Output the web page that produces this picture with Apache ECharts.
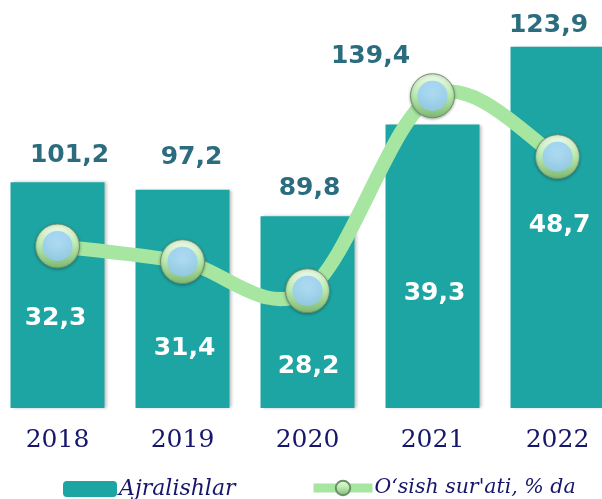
<!DOCTYPE html>
<html>
<head>
<meta charset="utf-8">
<script src="https://cdn.jsdelivr.net/npm/echarts@6/dist/echarts.min.js"></script>
<style>
  html, body { margin: 0; padding: 0; background: #fff; overflow: hidden; }
  /* 画布向左偏移 让第一根柱子贴近左边 */
  #chart { width: 627px; height: 499px; margin-left: -5px; }
</style>
</head>
<body>
<div id="chart"></div>
<script>
// 数据
const years = ["2018", "2019", "2020", "2021", "2022"]
const ajralishlar = [32.3, 31.4, 28.2, 39.3, 48.7] // 柱
const osishSurati = [101.2, 97.2, 89.8, 139.4, 123.9] // 折线 %

// 标签偏移（位置，不是数据）
const barLabelOffset = [[-2, 23], [2, 50], [1, 54], [2, 27], [2, -2]]
const lineLabelOffset = [[12, -91], [9, -104], [2, -102], [-62, -39], [-9, -131]]

const fmt = v => String(v).replace(".", ",")
const lineColor = "#a6e6a0"

const myChart = echarts.init(document.getElementById("chart"))

const ringColor = {
  type: "linear", x: 0, y: 0, x2: 0, y2: 1,
  colorStops: [
    { offset: 0, color: "#f0fcec" },
    { offset: 0.45, color: "#bdecb2" },
    { offset: 1, color: "#7db872" },
  ],
}
const innerColor = {
  type: "radial", x: 0.5, y: 0.45, r: 0.55,
  colorStops: [
    { offset: 0, color: "#a8d6ff" },
    { offset: 1, color: "#92c8f8" },
  ],
}

// 平滑曲线 (Catmull-Rom -> 贝塞尔)，每个 dataIndex 画一段
function renderCurve(params, api) {
  const i = params.dataIndex
  const n = osishSurati.length
  if (i >= n - 1) return null
  const pt = k => {
    const j = Math.max(0, Math.min(n - 1, k))
    return api.coord([j, osishSurati[j]])
  }
  const p0 = pt(i - 1), p1 = pt(i), p2 = pt(i + 1), p3 = pt(i + 2)
  const t = 1 / 6
  return {
    type: "bezierCurve",
    shape: {
      x1: p1[0], y1: p1[1],
      x2: p2[0], y2: p2[1],
      cpx1: p1[0] + (p2[0] - p0[0]) * t, cpy1: p1[1] + (p2[1] - p0[1]) * t,
      cpx2: p2[0] - (p3[0] - p1[0]) * t, cpy2: p2[1] - (p3[1] - p1[1]) * t,
    },
    style: { stroke: lineColor, lineWidth: 14, lineCap: "round", fill: null },
  }
}

const legendText = { fontFamily: "DejaVu Serif", fontStyle: "italic", fontSize: 22, color: "#16166b" }

const option = {
  animation: false,
  grid: { left: 0, width: 625, top: 3, bottom: 91, containLabel: false },
  legend: [
    {
      data: ["Ajralishlar"],
      left: 63, top: 473,
      itemWidth: 54, itemHeight: 16,
      textStyle: Object.assign({}, legendText, { padding: [0, 0, 0, -3] }),
    },
    {
      data: ["O‘sish sur'ati, % da"],
      left: 309, top: 473,
      itemWidth: 59, itemHeight: 18,
      lineStyle: { width: 9, color: lineColor, opacity: 1 },
      textStyle: Object.assign({}, legendText, { fontSize: 20.5, padding: [0, 0, 0, -3] }),
    },
  ],
  xAxis: {
    type: "category",
    data: years,
    axisLine: { show: false },
    axisTick: { show: false },
    axisLabel: { margin: 20, fontFamily: "DejaVu Serif", fontSize: 25, color: "#16166b" },
  },
  yAxis: [
    { type: "value", min: 5, max: 54, show: false, splitLine: { show: false } },
    { type: "value", min: 60, max: 163, show: false, splitLine: { show: false } },
  ],
  series: [
    {
      name: "Ajralishlar",
      type: "bar",
      barWidth: 94,
      itemStyle: {
        color: "#1ca5a3",
        shadowColor: "rgba(0,0,0,0.25)",
        shadowBlur: 3,
        shadowOffsetX: 2,
      },
      label: {
        show: true,
        position: "inside",
        formatter: p => fmt(p.value),
        fontFamily: "DejaVu Sans",
        fontWeight: "bold",
        fontSize: 25,
        color: "#ffffff",
      },
      data: ajralishlar.map((v, i) => ({ value: v, label: { offset: barLabelOffset[i] } })),
    },
    {
      // 曲线本身
      name: "curve",
      type: "custom",
      yAxisIndex: 1,
      z: 3,
      silent: true,
      renderItem: renderCurve,
      data: osishSurati,
    },
    {
      name: "O‘sish sur'ati, % da",
      type: "line",
      yAxisIndex: 1,
      z: 4,
      symbol: "circle",
      symbolSize: 44,
      lineStyle: { color: lineColor, width: 0, opacity: 0 },
      itemStyle: {
        color: ringColor,
        borderColor: "#6b8f66",
        borderWidth: 1,
        shadowColor: "rgba(0,0,0,0.3)",
        shadowBlur: 3,
        shadowOffsetY: 1,
      },
      label: {
        show: true,
        position: "inside",
        formatter: p => fmt(p.value),
        fontFamily: "DejaVu Sans",
        fontWeight: "bold",
        fontSize: 25,
        color: "#2b6d7f",
      },
      data: osishSurati.map((v, i) => ({ value: v, label: { offset: lineLabelOffset[i] } })),
    },
    {
      // 圆点内层 蓝色
      name: "inner",
      type: "scatter",
      yAxisIndex: 1,
      z: 5,
      symbol: "circle",
      symbolSize: 30,
      itemStyle: { color: innerColor },
      silent: true,
      data: osishSurati,
    },
  ],
}
myChart.setOption(option)
</script>
</body>
</html>
